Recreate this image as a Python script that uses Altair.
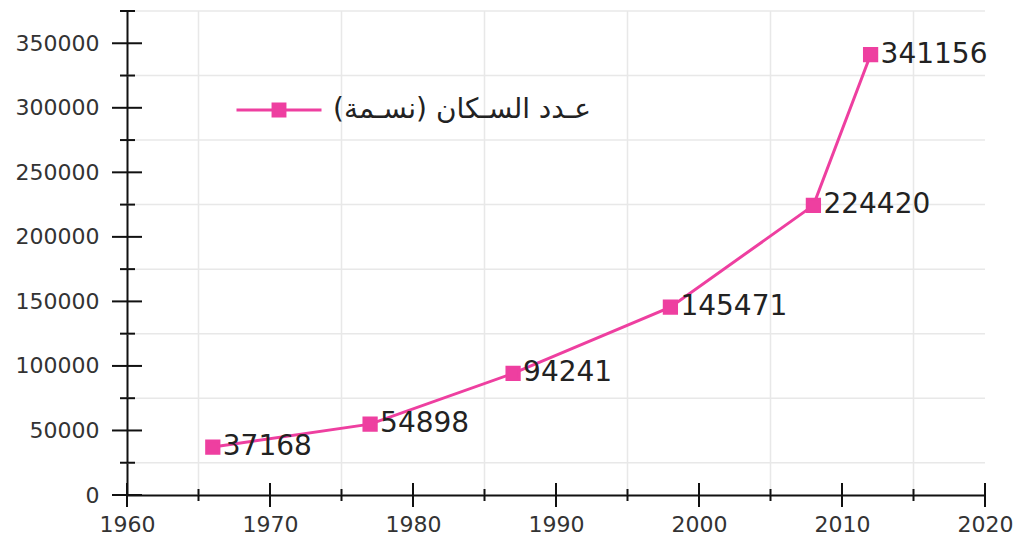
import altair as alt
import pandas as pd

# Population census values
years = [1966, 1977, 1987, 1998, 2008, 2012]
population = [37168, 54898, 94241, 145471, 224420, 341156]
series_name = "عـدد السـكان (نسـمة)\u200f"

# Axis tick positions
x_major = [1960, 1970, 1980, 1990, 2000, 2010, 2020]
x_minor = [1965, 1975, 1985, 1995, 2005, 2015]
y_major = [0, 50000, 100000, 150000, 200000, 250000, 300000, 350000]
y_minor = [25000, 75000, 125000, 175000, 225000, 275000, 325000, 375000]

PINK = "#EE3FA0"
FONT = "DejaVu Sans"

df = pd.DataFrame({"year": years, "pop": population, "series": [series_name] * len(years)})
xmaj = pd.DataFrame({"year": x_major})
xmin = pd.DataFrame({"year": x_minor})
ymaj = pd.DataFrame({"v": y_major})
ymin = pd.DataFrame({"v": y_minor})

xscale = alt.Scale(domain=[1960, 2020], nice=False, zero=False)
yscale = alt.Scale(domain=[0, 375000], nice=False)

W, H = 858, 484

x_axis = alt.Axis(
    values=x_major, format="d", ticks=False, grid=False, domain=True,
    domainColor="#111", domainWidth=2, labelFont=FONT, labelFontSize=22,
    labelColor="#333", labelPadding=19, labelFlush=False, labelOverlap=False, title=None,
)
y_axis = alt.Axis(
    values=y_major, format="d", ticks=False, grid=False, domain=True,
    domainColor="#111", domainWidth=2, labelFont=FONT, labelFontSize=22,
    labelColor="#333", labelPadding=28, labelFlush=False, labelOverlap=False, title=None,
)

X = lambda f: alt.X(f, scale=xscale, axis=x_axis)
Y = lambda f: alt.Y(f, scale=yscale, axis=y_axis)

# light grid at the half-step positions
vgrid = alt.Chart(xmin).mark_rule(color="#e8e8e8", strokeWidth=1.5).encode(
    x=X("year:Q"), y=alt.value(0), y2=alt.value(H)
)
hgrid = alt.Chart(ymin).mark_rule(color="#e8e8e8", strokeWidth=1.5).encode(
    y=Y("v:Q"), x=alt.value(0), x2=alt.value(W)
)

# tick marks crossing the axis lines
xt_major = alt.Chart(xmaj).mark_rule(color="#111", strokeWidth=2).encode(
    x=X("year:Q"), y=alt.value(H - 12), y2=alt.value(H + 12)
)
xt_minor = alt.Chart(xmin).mark_rule(color="#111", strokeWidth=2).encode(
    x=X("year:Q"), y=alt.value(H - 6), y2=alt.value(H + 6)
)
yt_major = alt.Chart(ymaj).mark_rule(color="#111", strokeWidth=2).encode(
    y=Y("v:Q"), x=alt.value(-15), x2=alt.value(15)
)
yt_minor = alt.Chart(ymin).mark_rule(color="#111", strokeWidth=2).encode(
    y=Y("v:Q"), x=alt.value(-7), x2=alt.value(8)
)

base = alt.Chart(df).encode(x=X("year:Q"), y=Y("pop:Q"))

line = base.mark_line(color=PINK, strokeWidth=3)

legend_symbol = "M-1,0H1M-0.14,-0.14H0.14V0.14H-0.14Z"
points = base.mark_point(
    shape="square", filled=True, size=150, opacity=1, stroke=PINK, strokeWidth=3
).encode(
    color=alt.Color(
        "series:N",
        scale=alt.Scale(range=[PINK]),
        legend=alt.Legend(
            title=None, orient="none", legendX=108, legendY=55, padding=0,
            symbolType=legend_symbol, symbolSize=7225, symbolStrokeWidth=3,
            symbolStrokeColor=PINK, symbolFillColor=PINK,
            labelFont=FONT, labelFontSize=28, labelColor="#222", labelOffset=10,
            labelLimit=600,
        ),
    )
)

labels = base.mark_text(
    align="left", baseline="middle", dx=10, font=FONT, fontSize=28, color="#222"
).encode(text=alt.Text("pop:Q", format="d"))

chart = alt.layer(
    vgrid, hgrid, line, points, labels, xt_major, xt_minor, yt_major, yt_minor
).properties(
    width=W, height=H,
    autosize=alt.AutoSizeParams(type="none"),
    padding={"left": 127, "top": 11, "right": 34, "bottom": 45},
    background="white",
).configure_view(stroke=None)

chart.save("out.html", embed_options={"renderer": "svg", "actions": False})
